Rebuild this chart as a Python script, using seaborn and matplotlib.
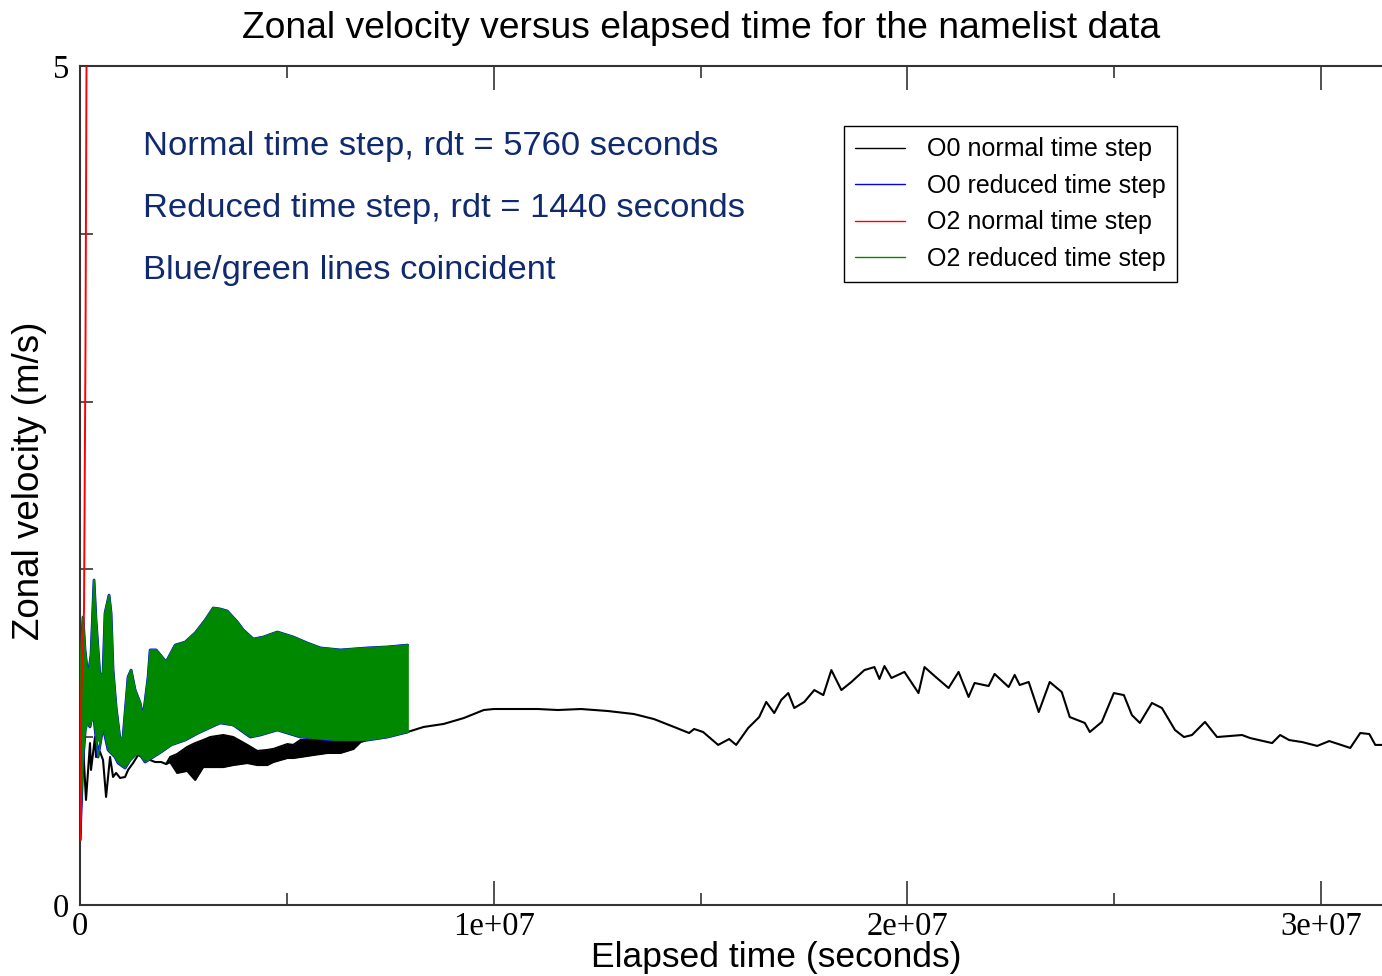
import numpy as np
import pandas as pd
import matplotlib
matplotlib.use("Agg")
import matplotlib.pyplot as plt
import seaborn as sns

# ---------------- data (time in units of 1e6 s, velocity in m/s) ----------------
# O0 normal time step: early single trace
o0n_early_t = [0, 0.073, 0.145, 0.242, 0.266, 0.363, 0.387, 0.484, 0.557, 0.630, 0.726, 0.799,
               0.872, 0.969, 1.090, 1.162, 1.283, 1.404, 1.574, 1.816, 1.961, 2.082]
o0n_early_v = [0.387, 0.954, 0.626, 0.965, 0.805, 1.001, 0.882, 0.912, 0.864, 0.644, 0.882, 0.763,
               0.787, 0.757, 0.763, 0.805, 0.846, 0.894, 0.876, 0.852, 0.852, 0.840]
# O0 normal time step: oscillating band (upper / lower envelope)
o0n_band_t = [2.082, 2.179, 2.349, 2.591, 2.784, 2.978, 3.148, 3.462, 3.705, 4.044, 4.286, 4.528,
              4.673, 5.012, 5.157, 5.327, 5.642, 5.981, 6.295, 6.610, 6.780, 7.094, 7.433, 7.748, 7.918]
o0n_band_hi = [0.840, 0.882, 0.900, 0.942, 0.965, 0.983, 1.001, 1.013, 1.001, 0.954, 0.918, 0.924,
               0.930, 0.959, 0.954, 0.983, 0.983, 0.983, 0.983, 0.977, 0.977, 1.001, 1.013, 1.031, 1.031]
o0n_band_lo = [0.840, 0.852, 0.787, 0.799, 0.745, 0.822, 0.822, 0.822, 0.834, 0.846, 0.834, 0.834,
               0.852, 0.876, 0.876, 0.882, 0.894, 0.906, 0.906, 0.930, 0.971, 0.995, 1.007, 1.025, 1.031]
# O0 normal time step: late single trace
o0n_late_t = [7.918, 8.305, 8.789, 9.274, 9.758, 10.000, 10.484, 11.065, 11.550, 12.107, 12.760,
              13.390, 13.874, 14.358, 14.722, 14.843, 15.060, 15.424, 15.690, 15.860, 16.150, 16.416,
              16.586, 16.780, 16.949, 17.119, 17.264, 17.506, 17.748, 17.966, 18.160, 18.402, 18.644,
              18.959, 19.201, 19.322, 19.443, 19.613, 19.927, 20.266, 20.412, 20.654, 20.993, 21.235,
              21.477, 21.622, 21.961, 22.106, 22.445, 22.591, 22.712, 22.930, 23.172, 23.438, 23.729,
              23.922, 24.286, 24.407, 24.697, 24.988, 25.230, 25.424, 25.617, 25.908, 26.150, 26.465,
              26.683, 26.876, 27.191, 27.482, 28.087, 28.281, 28.813, 29.007, 29.225, 29.540, 29.903,
              30.194, 30.702, 30.944, 31.162, 31.307, 31.525]
o0n_late_v = [1.031, 1.061, 1.079, 1.114, 1.162, 1.168, 1.168, 1.168, 1.162, 1.168, 1.156,
              1.138, 1.108, 1.061, 1.025, 1.049, 1.031, 0.954, 0.989, 0.954, 1.055, 1.120,
              1.210, 1.144, 1.222, 1.263, 1.174, 1.210, 1.281, 1.251, 1.400, 1.281, 1.329,
              1.400, 1.418, 1.347, 1.424, 1.353, 1.389, 1.263, 1.418, 1.365, 1.293, 1.389,
              1.240, 1.323, 1.305, 1.377, 1.299, 1.371, 1.311, 1.329, 1.150, 1.329, 1.269,
              1.120, 1.085, 1.031, 1.091, 1.263, 1.251, 1.132, 1.085, 1.204, 1.174, 1.043,
              1.001, 1.013, 1.091, 1.001, 1.013, 0.995, 0.965, 1.013, 0.983, 0.971, 0.948,
              0.977, 0.936, 1.025, 1.019, 0.954, 0.954]

# O2 reduced time step (oscillating band envelopes); O0 reduced coincides with it
o2r_hi_t = [0, 0.024, 0.073, 0.121, 0.194, 0.266, 0.339, 0.387, 0.484, 0.557, 0.605, 0.702, 0.751,
            0.799, 0.872, 0.969, 1.041, 1.162, 1.235, 1.332, 1.453, 1.525, 1.646, 1.695, 1.840, 2.082,
            2.300, 2.542, 2.784, 3.027, 3.220, 3.390, 3.559, 3.801, 3.947, 4.189, 4.431, 4.770, 5.157,
            5.496, 5.811, 6.295, 6.949, 7.433, 7.918]
o2r_hi_v = [0.387, 1.502, 1.716, 1.520, 1.359, 1.490, 1.937, 1.698, 1.359, 1.383, 1.740, 1.847, 1.740,
            1.400, 1.180, 0.983, 1.001, 1.359, 1.400, 1.281, 1.204, 1.120, 1.359, 1.520, 1.520, 1.448,
            1.549, 1.567, 1.621, 1.698, 1.770, 1.764, 1.752, 1.687, 1.639, 1.585, 1.597, 1.627, 1.597,
            1.561, 1.532, 1.520, 1.532, 1.538, 1.549]
o2r_lo_t = [0, 0.073, 0.145, 0.242, 0.315, 0.436, 0.557, 0.678, 0.847, 0.920, 1.090, 1.211, 1.404,
            1.574, 1.768, 1.961, 2.203, 2.542, 2.857, 3.172, 3.390, 3.705, 4.116, 4.358, 4.770, 5.327,
            6.126, 6.949, 7.433, 7.918]
o2r_lo_v = [0.387, 0.864, 1.103, 1.061, 1.162, 0.882, 1.061, 0.924, 0.882, 0.846, 0.816, 0.864, 0.912,
            0.852, 0.882, 0.912, 0.954, 0.983, 1.025, 1.061, 1.085, 1.073, 1.001, 1.013, 1.043, 1.001,
            0.983, 0.983, 1.001, 1.031]
o0r_hi_t, o0r_hi_v = o2r_hi_t, o2r_hi_v
o0r_lo_t, o0r_lo_v = o2r_lo_t, o2r_lo_v

# O2 normal time step (blows up almost immediately)
o2n_t = [0, 0.030, 0.097, 0.133, 0.157, 0.194]
o2n_v = [0.387, 1.240, 1.758, 3.349, 5.000, 6.585]

series_names = ["O0 normal time step", "O0 reduced time step",
                "O2 normal time step", "O2 reduced time step"]
series_colors = ["#000000", "#0000ff", "#ff0000", "#008800"]
x_ticks = [0, 1e7, 2e7, 3e7]
x_ticklabels = ["0", "1e+07", "2e+07", "3e+07"]
x_minor = [5e6, 1.5e7, 2.5e7]
y_ticks = [0, 1, 2, 3, 4, 5]
y_ticklabels = ["0", "", "", "", "", "5"]
notes = ["Normal time step, rdt = 5760 seconds",
         "Reduced time step, rdt = 1440 seconds",
         "Blue/green lines coincident"]

S = 1e6
# ---------------- plot ----------------
sns.set_theme(style="white")
plt.rcParams["font.family"] = ["Liberation Sans", "DejaVu Sans"]
plt.rcParams["text.color"] = "black"
plt.rcParams["axes.labelcolor"] = "black"
plt.rcParams["xtick.color"] = "black"
plt.rcParams["ytick.color"] = "black"

fig = plt.figure(figsize=(13.82, 9.76), dpi=100)
ax = fig.add_axes([80 / 1382, 1 - 905 / 976, 1302 / 1382 + 0.002, (905 - 66) / 976])

def df(t, v):
    return pd.DataFrame({"t": np.asarray(t) * S, "v": np.asarray(v)})

c_o0n, c_o0r, c_o2n, c_o2r = series_colors

# O0 normal (black)
ax.fill_between(np.asarray(o0n_band_t) * S, o0n_band_lo, o0n_band_hi, color=c_o0n, lw=0)
sns.lineplot(data=df(o0n_early_t, o0n_early_v), x="t", y="v", ax=ax, color=c_o0n, lw=1.5,
             sort=False, estimator=None, label=series_names[0])
sns.lineplot(data=df(o0n_band_t, o0n_band_hi), x="t", y="v", ax=ax, color=c_o0n, lw=1.5,
             sort=False, estimator=None)
sns.lineplot(data=df(o0n_band_t, o0n_band_lo), x="t", y="v", ax=ax, color=c_o0n, lw=1.5,
             sort=False, estimator=None)
sns.lineplot(data=df(o0n_late_t, o0n_late_v), x="t", y="v", ax=ax, color=c_o0n, lw=1.5,
             sort=False, estimator=None)

# O0 reduced (blue, underneath the green)
sns.lineplot(data=df(o0r_hi_t, o0r_hi_v), x="t", y="v", ax=ax, color=c_o0r, lw=2.0,
             sort=False, estimator=None, label=series_names[1])
sns.lineplot(data=df(o0r_lo_t, o0r_lo_v), x="t", y="v", ax=ax, color=c_o0r, lw=2.0,
             sort=False, estimator=None)

# O2 reduced (green band)
hi_t = np.asarray(o2r_hi_t) * S
lo_on_hi = np.interp(o2r_hi_t, o2r_lo_t, o2r_lo_v)
ax.fill_between(hi_t, lo_on_hi, o2r_hi_v, color=c_o2r, lw=0, zorder=2.5)
sns.lineplot(data=df(o2r_hi_t, o2r_hi_v), x="t", y="v", ax=ax, color=c_o2r, lw=1.4,
             sort=False, estimator=None, label=series_names[3], zorder=2.6)
sns.lineplot(data=df(o2r_lo_t, o2r_lo_v), x="t", y="v", ax=ax, color=c_o2r, lw=1.0,
             sort=False, estimator=None, zorder=2.6)
ax.plot([hi_t[-1], hi_t[-1]], [o2r_lo_v[-1], o2r_hi_v[-1]], color=c_o2r, lw=1.2, zorder=2.6)

# O2 normal (red)
sns.lineplot(data=df(o2n_t, o2n_v), x="t", y="v", ax=ax, color=c_o2n, lw=1.4,
             sort=False, estimator=None, label=series_names[2], zorder=3)

ax.set_xlim(0, 31536000)
ax.set_ylim(0, 5)

# ticks
ax.set_xticks(x_ticks)
ax.set_xticklabels(x_ticklabels)
ax.set_xticks(x_minor, minor=True)
ax.set_yticks(y_ticks)
ax.set_yticklabels(y_ticklabels)
ax.tick_params(axis="x", which="major", direction="in", length=17, width=1.2, color="#333333",
               top=True, bottom=True, pad=4.5)
ax.tick_params(axis="x", which="minor", direction="in", length=8.5, width=1.2, color="#333333",
               top=True, bottom=True)
ax.tick_params(axis="y", which="major", direction="in", length=9, width=1.2, color="#333333",
               left=True, right=False, pad=8)
for lab in ax.get_xticklabels() + ax.get_yticklabels():
    lab.set_family(["Liberation Serif", "DejaVu Serif"])
    lab.set_fontsize(23.5)
    lab.set_color("black")

for name, sp in ax.spines.items():
    sp.set_color("#333333")
    sp.set_linewidth(1.5)
ax.spines["right"].set_visible(False)

ax.set_xlabel("")
ax.set_ylabel("")
fig.text(776 / 1382, 1 - 957 / 976, "Elapsed time (seconds)", ha="center", va="center",
         fontsize=25.5, color="black")
fig.text(30 / 1382, 1 - 481 / 976, "Zonal velocity (m/s)", ha="center", va="center",
         rotation=90, fontsize=26.5, color="black")
fig.text(701 / 1382, 1 - 29 / 976, "Zonal velocity versus elapsed time for the namelist data",
         ha="center", va="center", fontsize=26.8, color="black")

note_y = [0.9046, 0.8296, 0.7568]
for txt, yy in zip(notes, note_y):
    ax.text(0.0484, yy, txt, transform=ax.transAxes, ha="left", va="center",
            fontsize=24.8, color="#102a70")

# legend
handles, labels = ax.get_legend_handles_labels()
hmap = dict(zip(labels, handles))
leg = ax.legend([hmap[n] for n in series_names], series_names,
                loc="upper left", bbox_to_anchor=((842 - 80) / 1302, (905 - 126) / 839),
                borderaxespad=0, fontsize=18, frameon=True, fancybox=False,
                edgecolor="black", framealpha=1, handlelength=2.0, handletextpad=0.9,
                labelspacing=0.5, borderpad=0.45)
leg.get_frame().set_linewidth(1.0)
for l in leg.get_lines():
    l.set_linewidth(1.0)
for t in leg.get_texts():
    t.set_color("black")

fig.savefig("out.png", dpi=100)
